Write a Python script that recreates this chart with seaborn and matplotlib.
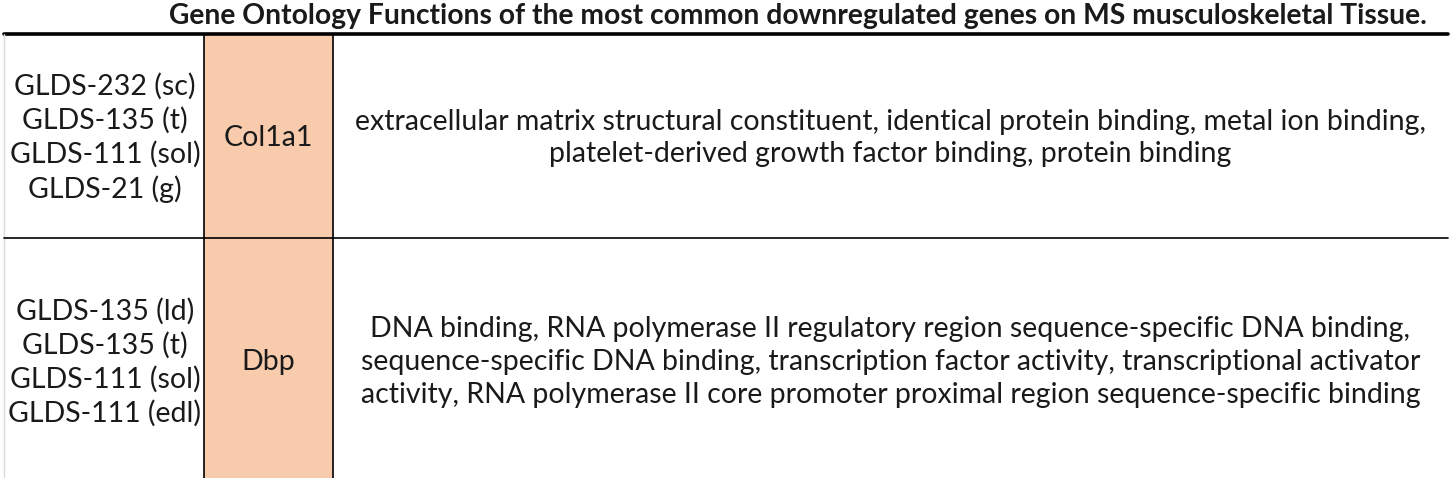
import matplotlib
matplotlib.use("Agg")
import matplotlib.pyplot as plt
import seaborn as sns

# ── data ─────────────────────────────────────────────────────────────
TITLE = "Gene Ontology Functions of the most common downregulated genes on MS musculoskeletal Tissue."
genes = ["Col1a1", "Dbp"]
datasets = [
    ["GLDS-232 (sc)", "GLDS-135 (t)", "GLDS-111 (sol)", "GLDS-21 (g)"],
    ["GLDS-135 (ld)", "GLDS-135 (t)", "GLDS-111 (sol)", "GLDS-111 (edl)"],
]
functions = [
    ["extracellular matrix structural constituent, identical protein binding, metal ion binding,",
     "platelet-derived growth factor binding, protein binding"],
    ["DNA binding, RNA polymerase II regulatory region sequence-specific DNA binding,",
     "sequence-specific DNA binding, transcription factor activity, transcriptional activator",
     "activity, RNA polymerase II core promoter proximal region sequence-specific binding"],
]

# ── style ────────────────────────────────────────────────────────────
sns.set_theme(style="white")
plt.rcParams["font.family"] = ["Lato", "DejaVu Sans"]
ORANGE = "#F8CBAD"
TXT = "#1a1a1a"
FS = 20.5

W, H = 1450, 478
fig = plt.figure(figsize=(W / 100, H / 100), dpi=100)
ax = fig.add_axes([0, 0, 1, 1])
ax.set_xlim(0, W)
ax.set_ylim(H, 0)
ax.axis("off")

# table geometry (pixels)
col_edges = [4, 204, 333, 1448]
row_edges = [34, 238, H]

ax.text(798, 16, TITLE, ha="center", va="center", fontsize=20.3, fontweight="bold", color=TXT)

# header rule and left border
ax.plot([col_edges[0], col_edges[-1]], [row_edges[0]] * 2, color="black", lw=2.6)
ax.plot([col_edges[0]] * 2, [row_edges[0], H], color="#d8d8d8", lw=1)

# orange gene column
ax.fill_between([col_edges[1], col_edges[2]], row_edges[0], H, color=ORANGE, lw=0)
for x in col_edges[1:3]:
    ax.plot([x, x], [row_edges[0], H], color="black", lw=1.2)
ax.plot([col_edges[0], col_edges[-1]], [row_edges[1]] * 2, color="black", lw=1.2)

centers = [138, 362]
for i, gene in enumerate(genes):
    mid = centers[i]
    ax.text((col_edges[0] + col_edges[1]) / 2 + 1, mid, "\n".join(datasets[i]),
            ha="center", va="center", fontsize=FS, color=TXT, linespacing=1.33)
    ax.text((col_edges[1] + col_edges[2]) / 2, mid, gene,
            ha="center", va="center", fontsize=FS, color=TXT)
    ax.text((col_edges[2] + col_edges[3]) / 2, mid, "\n".join(functions[i]),
            ha="center", va="center", fontsize=FS, color=TXT, linespacing=1.33)

fig.savefig("out.png", dpi=100, facecolor="white")
